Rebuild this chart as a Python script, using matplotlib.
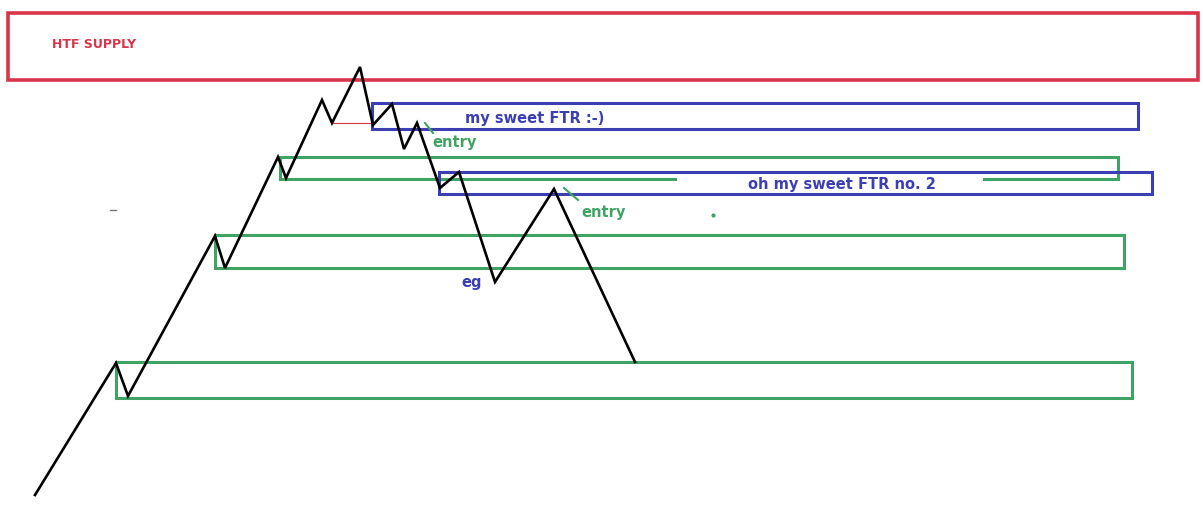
import matplotlib.pyplot as plt
from matplotlib.patches import Rectangle

# price path (picture pixel coords, y downwards)
path_x = [35, 116, 128, 215, 225, 278, 286, 322, 332, 360, 373, 392, 404, 417, 440, 459, 495, 554, 635]
path_y = [495, 363, 396, 236, 268, 157, 178, 100, 123, 67, 125, 104, 149, 123, 188, 172, 282, 189, 362]

# zones: x0, x1, y_top, y_bottom
supply_zone = [8, 1198, 13, 80]
ftr_zones = [[372, 1138, 103, 129], [439, 1152, 172, 194]]
demand_zones = [[280, 1118, 157, 179], [215, 1124, 235, 268], [116, 1132, 362, 398]]

ftr_labels = ["my sweet FTR :-)", "oh my sweet FTR no. 2"]
ftr_label_pos = [(535, 118), (842, 184)]
entry_pos = [(432, 143), (581, 212)]
entry_tick = [[(425, 123), (433, 133)], [(564, 188), (578, 200)]]

red = "#d8344a"
blue = "#3c3fb4"
green = "#3fa463"

fig = plt.figure(figsize=(12.03, 5.08), dpi=100)
ax = fig.add_axes([0, 0, 1, 1])
ax.set_xlim(0, 1203)
ax.set_ylim(508, 0)
ax.axis("off")


def zone(z, color, lw=2.2, zo=2):
    x0, x1, y0, y1 = z
    ax.add_patch(Rectangle((x0, y0), x1 - x0, y1 - y0, fill=False,
                           edgecolor=color, linewidth=lw, zorder=zo))


zone(supply_zone, red, lw=2.6)
for z in demand_zones:
    zone(z, green, zo=2)
# white patch behind second label hides part of the green line
ax.add_patch(Rectangle((677, 175), 306, 16, facecolor="white", edgecolor="none", zorder=3))
for z in ftr_zones:
    zone(z, blue, zo=4)

# small red line under the first FTR
ax.plot([332, 372], [123, 123], color=red, lw=0.8, zorder=3)

ax.plot(path_x, path_y, color="black", lw=1.9, zorder=5, solid_joinstyle="miter")

ax.text(52, 44, "HTF SUPPLY", color=red, fontsize=9, fontweight="bold", va="center")
for lab, (x, y) in zip(ftr_labels, ftr_label_pos):
    ax.text(x, y, lab, color=blue, fontsize=10.5, fontweight="bold", ha="center", va="center", zorder=6)
for (x, y), tk in zip(entry_pos, entry_tick):
    ax.text(x, y, "entry", color=green, fontsize=10.5, fontweight="bold", va="center", zorder=6)
    ax.plot([tk[0][0], tk[1][0]], [tk[0][1], tk[1][1]], color=green, lw=1.5, zorder=6)
ax.text(472, 283, "eg", color=blue, fontsize=10.5, fontweight="bold", ha="center", va="center")

# stray marks
ax.plot([110, 116], [210, 210], color="#777777", lw=1)
ax.plot([713], [215], "o", color=green, ms=2)

fig.savefig("out.png", dpi=100, facecolor="white")
